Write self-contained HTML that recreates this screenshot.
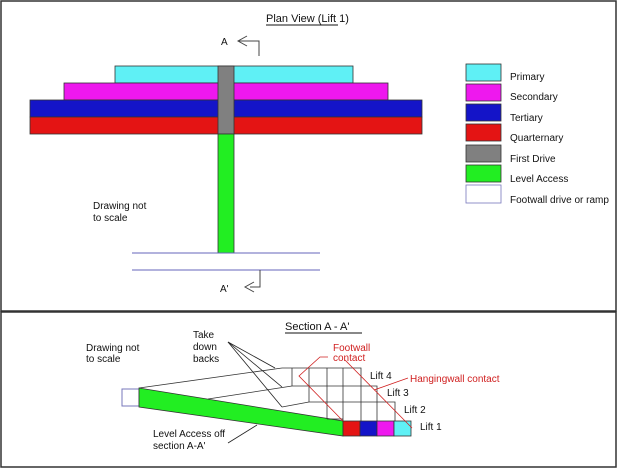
<!DOCTYPE html>
<html><head><style>body{margin:0;background:#fff}svg{display:block}text{font-family:"Liberation Sans",sans-serif;font-size:10px;fill:#111}</style></head><body>
<svg width="620" height="469" viewBox="0 0 620 469">
<rect x="1" y="1" width="615" height="310" fill="#fff" stroke="#333" stroke-width="1.5"/>
<rect x="1" y="312" width="615" height="155" fill="#fff" stroke="#333" stroke-width="1.5"/>
<text x="266" y="22" font-size="11" style="font-size:11px">Plan View (Lift 1)</text>
<line x1="266" y1="25" x2="338" y2="25" stroke="#111"/>
<text x="221" y="45">A</text>
<polyline points="247,36 238,41 247,46" fill="none" stroke="#444"/>
<polyline points="238,41 259,41 259,56" fill="none" stroke="#444"/>
<g stroke="#333" stroke-width="0.8">
<rect x="115" y="66" width="238" height="17" fill="#5ff0f5"/>
<rect x="64" y="83" width="324" height="17" fill="#ee18ee"/>
<rect x="30" y="100" width="392" height="17" fill="#1414c8"/>
<rect x="30" y="117" width="392" height="17" fill="#e41414"/>
<rect x="218" y="66" width="16" height="68" fill="#808080"/>
<rect x="218" y="134" width="16" height="119" fill="#22ee22"/>
</g>
<line x1="132" y1="253" x2="320" y2="253" stroke="#6666bb"/>
<line x1="132" y1="270" x2="320" y2="270" stroke="#6666bb"/>
<polyline points="260,270 260,287 250,287" fill="none" stroke="#444"/>
<polyline points="254,282 245,287 254,292" fill="none" stroke="#444"/>
<text x="220" y="292">A'</text>
<text x="93" y="209">Drawing not</text>
<text x="93" y="221">to scale</text>
<g stroke="#333" stroke-width="0.8">
<rect x="466" y="64" width="35" height="17" fill="#5ff0f5"/>
<rect x="466" y="84" width="35" height="17" fill="#ee18ee"/>
<rect x="466" y="104" width="35" height="17" fill="#1414c8"/>
<rect x="466" y="124" width="35" height="17" fill="#e41414"/>
<rect x="466" y="145" width="35" height="17" fill="#808080"/>
<rect x="466" y="165" width="35" height="17" fill="#22ee22"/>
<rect x="466" y="185" width="35" height="18" fill="#fff" stroke="#7777bb"/>
</g>
<text x="510" y="80">Primary</text>
<text x="510" y="100">Secondary</text>
<text x="510" y="121">Tertiary</text>
<text x="510" y="141">Quarternary</text>
<text x="510" y="162">First Drive</text>
<text x="510" y="182">Level Access</text>
<text x="510" y="203">Footwall drive or ramp</text>

<text x="285" y="330" style="font-size:11px">Section A - A'</text>
<line x1="285" y1="333" x2="362" y2="333" stroke="#111"/>
<text x="86" y="351">Drawing not</text>
<text x="86" y="362">to scale</text>
<text x="193" y="338">Take</text>
<text x="193" y="350">down</text>
<text x="193" y="362">backs</text>
<rect x="122" y="389" width="17" height="17" fill="#fff" stroke="#7777bb"/>
<polygon points="139,388 343,421 343,436 139,407" fill="#22ee22" stroke="#333" stroke-width="0.8"/>
<g stroke="#333" stroke-width="0.8" fill="none">
<line x1="139" y1="388" x2="282" y2="368"/>
<line x1="208" y1="399" x2="292" y2="386"/>
<line x1="282" y1="407" x2="309" y2="402"/>
<polyline points="282,368 361,368 361,386 377,386 377,402 395,402 395,421"/>
<line x1="292" y1="368" x2="292" y2="386"/>
<line x1="309" y1="368" x2="309" y2="402"/>
<line x1="327" y1="368" x2="327" y2="419"/>
<line x1="343" y1="368" x2="343" y2="421"/>
<line x1="292" y1="386" x2="361" y2="386"/>
<line x1="309" y1="402" x2="377" y2="402"/>
<line x1="327" y1="419" x2="343" y2="419"/>
<line x1="361" y1="386" x2="361" y2="421"/>
<line x1="377" y1="402" x2="377" y2="421"/>
</g>
<g stroke="#333" stroke-width="0.8">
<rect x="343" y="421" width="17" height="15" fill="#e41414"/>
<rect x="360" y="421" width="17" height="15" fill="#1414c8"/>
<rect x="377" y="421" width="17" height="15" fill="#ee18ee"/>
<rect x="394" y="421" width="17" height="15" fill="#5ff0f5"/>
</g>
<g stroke="#222" stroke-width="0.8">
<line x1="228" y1="342" x2="275" y2="368"/>
<line x1="228" y1="342" x2="282" y2="387"/>
<line x1="228" y1="342" x2="282" y2="407"/>
<line x1="228" y1="443" x2="257" y2="425"/>
</g>
<g stroke="#d02020" stroke-width="0.8" fill="none">
<polyline points="328,357 320,357 299,376 343,421"/>
<line x1="345" y1="360" x2="412" y2="428"/>
<line x1="408" y1="378" x2="374" y2="390"/>
</g>
<text x="333" y="351" style="fill:#d02020">Footwall</text>
<text x="333" y="361" style="fill:#d02020">contact</text>
<text x="410" y="382" style="fill:#d02020">Hangingwall contact</text>
<text x="370" y="379">Lift 4</text>
<text x="387" y="396">Lift 3</text>
<text x="404" y="413">Lift 2</text>
<text x="420" y="430">Lift 1</text>
<text x="153" y="437">Level Access off</text>
<text x="153" y="449">section A-A'</text>
</svg>
</body></html>
